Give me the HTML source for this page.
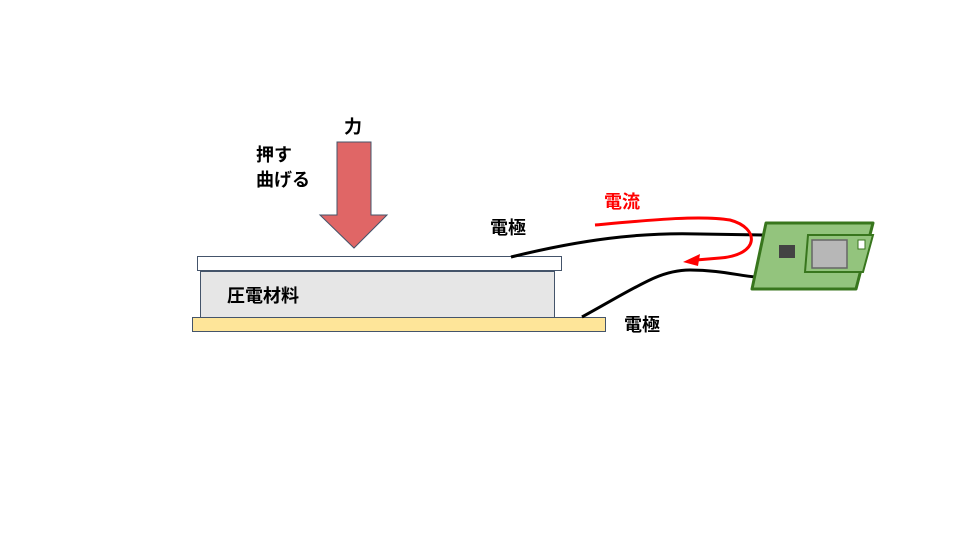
<!DOCTYPE html>
<html><head><meta charset="utf-8"><style>
body{margin:0;background:#fff;}
svg text{font-family:"Liberation Sans","Noto Sans CJK JP",sans-serif;font-weight:bold;font-size:18px;}
</style></head><body>
<svg width="960" height="540" viewBox="0 0 960 540" xmlns="http://www.w3.org/2000/svg">
<rect width="960" height="540" fill="#fff"/>
<polygon points="337,142 371,142 371,215 387,215 354,248 320,215 337,215" fill="#e06666" stroke="#44546a" stroke-width="1"/>
<text x="344" y="133">力</text>
<text x="256" y="161">押す</text>
<text x="256" y="186">曲げる</text>
<rect x="200.5" y="271.5" width="354" height="47" fill="#e6e6e6" stroke="#44546a"/>
<rect x="197.5" y="256.5" width="364" height="14" fill="#fff" stroke="#44546a"/>
<rect x="192.5" y="317.5" width="413" height="14" fill="#fee599" stroke="#44546a"/>
<text x="227" y="302">圧電材料</text>
<text x="490" y="234">電極</text>
<text x="624" y="331">電極</text>
<text x="604" y="208" fill="#ff0000">電流</text>
<path d="M511,257 C580,240 640,232 700,234 L766,235" fill="none" stroke="#000" stroke-width="3"/>
<path d="M582,317 C640,285 660,270 690,270 C720,270 740,276 756,277" fill="none" stroke="#000" stroke-width="3"/>
<polygon points="766,223 873,223 856,289 752,289" fill="#93c47d" stroke="#38761d" stroke-width="3" stroke-linejoin="round"/>
<polygon points="808,235 873,235 863,272 805,272" fill="#93c47d" stroke="#38761d" stroke-width="2"/>
<rect x="812" y="240" width="35" height="28" fill="#b7b7b7" stroke="#666" stroke-width="1.5"/>
<rect x="779" y="245" width="16" height="13" fill="#434343"/>
<rect x="858" y="240" width="7" height="9" fill="#fff" stroke="#38761d"/>
<path d="M595,225 C650,220 700,215 730,220 C760,228 760,255 720,258 L696,260" fill="none" stroke="#ff0000" stroke-width="3"/>
<polygon points="683,262 700,254 698,266" fill="#ff0000"/>
</svg>
</body></html>
